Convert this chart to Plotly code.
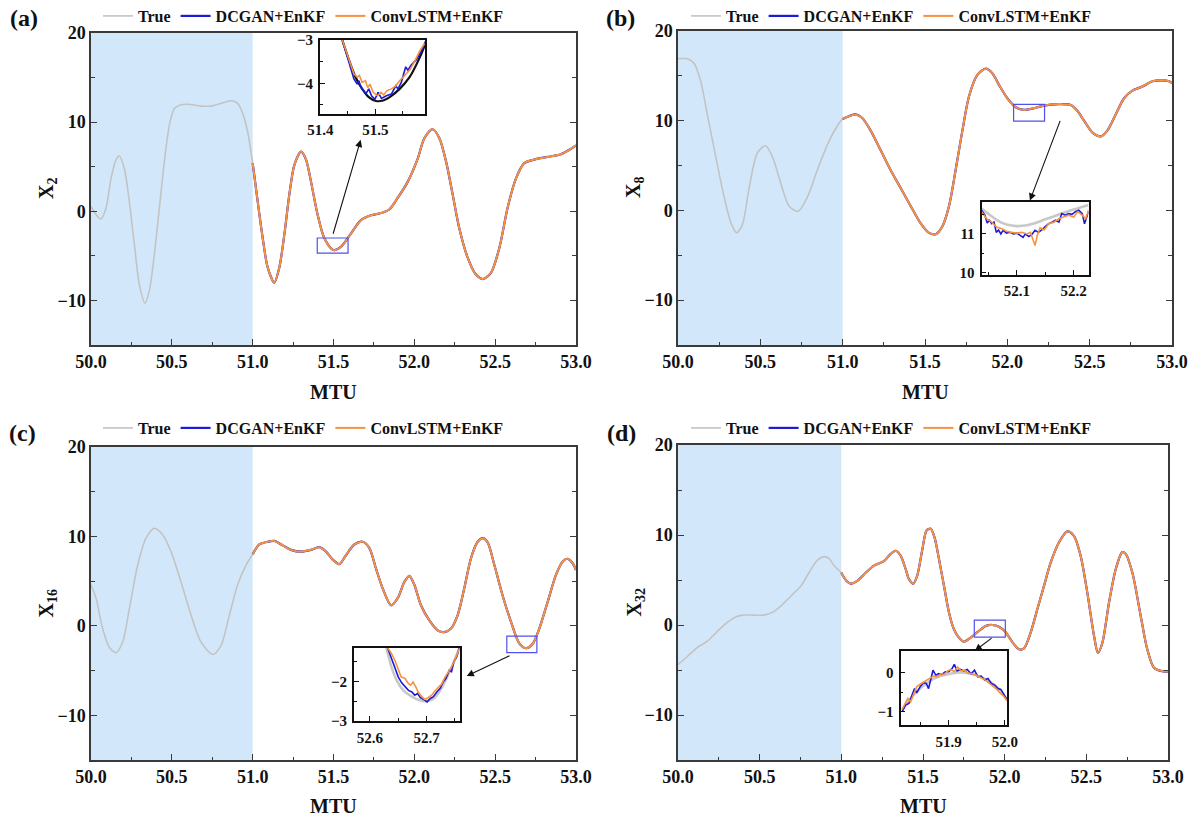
import plotly.graph_objects as go

# ---------------- data ----------------
a_x = [50.000, 50.031, 50.062, 50.093, 50.124, 50.155, 50.175, 50.206, 50.237, 50.268, 50.299, 50.334,
       50.361, 50.392, 50.423, 50.454, 50.485, 50.515, 50.546, 50.598, 50.680, 50.742, 50.804, 50.866,
       50.907, 50.938, 50.969, 51.000, 51.031, 51.062, 51.093, 51.134, 51.165, 51.196, 51.227, 51.258,
       51.299, 51.330, 51.361, 51.402, 51.443, 51.499, 51.546, 51.608, 51.670, 51.732, 51.794, 51.845,
       51.897, 51.959, 52.021, 52.062, 52.113, 52.155, 52.196, 52.237, 52.278, 52.330, 52.381, 52.423,
       52.474, 52.526, 52.577, 52.629, 52.680, 52.742, 52.825, 52.907, 52.959, 53.000]
a_true = [0.56, -0.37, -0.86, 0.37, 3.7, 5.8, 6.2, 4.8, 1.1, -3.7, -8.2, -10.3,
          -8.9, -4.8, 0.4, 5.6, 9.7, 11.5, 11.9, 12.0, 11.8, 11.8, 12.1, 12.4,
          12.1, 11.0, 8.9, 5.4, 1.1, -3.0, -6.3, -8.0, -6.3, -2.6, 1.9, 5.2,
          6.7, 5.8, 3.3, -0.4, -3.0, -4.35, -4.0, -2.5, -1.0, -0.45, -0.2, 0.2,
          1.5, 3.3, 5.9, 8.2, 9.2, 8.2, 5.6, 1.9, -1.9, -5.2, -7.1, -7.6,
          -6.9, -4.1, 0.4, 3.7, 5.4, 5.8, 6.1, 6.4, 6.9, 7.4]

b_x = [50.000, 50.057, 50.097, 50.138, 50.178, 50.229, 50.279, 50.320, 50.356, 50.391, 50.431, 50.482,
       50.532, 50.573, 50.623, 50.674, 50.729, 50.785, 50.846, 50.907, 50.957, 51.000, 51.038, 51.079,
       51.119, 51.170, 51.231, 51.291, 51.352, 51.413, 51.474, 51.524, 51.565, 51.605, 51.646, 51.686,
       51.727, 51.767, 51.818, 51.868, 51.909, 51.949, 52.000, 52.051, 52.101, 52.152, 52.202, 52.263,
       52.324, 52.385, 52.425, 52.466, 52.516, 52.567, 52.607, 52.658, 52.709, 52.759, 52.820, 52.881,
       52.941, 52.982, 53.000]
b_true = [16.9, 16.9, 16.4, 14.4, 10.7, 6.0, 1.6, -1.3, -2.5, -1.6, 2.4, 6.4,
          7.2, 6.0, 3.1, 0.5, -0.1, 1.45, 4.5, 7.3, 9.1, 10.2, 10.5, 10.7,
          10.3, 8.9, 6.7, 4.5, 2.5, 0.5, -1.45, -2.5, -2.65, -1.8, 0.5, 4.5,
          8.9, 12.7, 15.1, 15.8, 15.3, 14.0, 12.5, 11.5, 11.2, 11.35, 11.6, 11.8,
          11.85, 11.75, 11.1, 10.0, 8.7, 8.25, 8.9, 10.7, 12.5, 13.35, 13.8, 14.4,
          14.5, 14.4, 14.2]

c_x = [50.000, 50.031, 50.072, 50.113, 50.155, 50.196, 50.237, 50.289, 50.340, 50.392, 50.443, 50.495,
       50.557, 50.619, 50.680, 50.753, 50.804, 50.856, 50.907, 50.959, 51.000, 51.041, 51.093, 51.134,
       51.186, 51.237, 51.299, 51.361, 51.412, 51.454, 51.495, 51.536, 51.577, 51.629, 51.680, 51.722,
       51.763, 51.804, 51.856, 51.897, 51.938, 51.969, 52.000, 52.041, 52.093, 52.144, 52.186, 52.227,
       52.268, 52.309, 52.351, 52.392, 52.423, 52.454, 52.495, 52.546, 52.598, 52.649, 52.691, 52.732,
       52.773, 52.825, 52.876, 52.918, 52.948, 52.979, 53.000]
c_true = [4.6, 3.1, -0.3, -2.4, -3.0, -1.8, 1.9, 6.8, 9.8, 10.9, 10.2, 8.3,
          4.9, 1.2, -1.8, -3.2, -2.2, 1.2, 4.6, 6.8, 8.0, 9.1, 9.4, 9.5,
          9.0, 8.5, 8.3, 8.5, 8.8, 8.3, 7.4, 6.9, 7.9, 9.1, 9.4, 8.7,
          6.4, 4.2, 2.3, 3.1, 4.9, 5.6, 4.6, 2.3, 0.6, -0.5, -0.7, -0.3,
          1.2, 4.2, 7.6, 9.4, 9.8, 9.3, 6.8, 3.4, 0.45, -1.95, -2.5, -2.0,
          -0.3, 2.7, 5.7, 7.2, 7.5, 7.0, 6.25]

d_x = [50.000, 50.057, 50.118, 50.180, 50.241, 50.302, 50.353, 50.394, 50.465, 50.527, 50.578, 50.629,
       50.690, 50.751, 50.802, 50.853, 50.894, 50.924, 50.955, 51.000, 51.027, 51.057, 51.098, 51.149,
       51.200, 51.261, 51.302, 51.333, 51.363, 51.394, 51.414, 51.441, 51.465, 51.496, 51.522, 51.547,
       51.571, 51.598, 51.629, 51.659, 51.690, 51.720, 51.751, 51.792, 51.833, 51.884, 51.924, 51.965,
       52.006, 52.047, 52.088, 52.118, 52.159, 52.200, 52.241, 52.282, 52.333, 52.384, 52.424, 52.465,
       52.506, 52.547, 52.571, 52.598, 52.639, 52.680, 52.720, 52.741, 52.782, 52.833, 52.873, 52.914,
       52.955, 53.000]
d_true = [-4.4, -3.5, -2.5, -1.8, -0.7, 0.3, 0.9, 1.1, 1.1, 1.1, 1.4, 2.1,
          3.2, 4.3, 5.8, 7.2, 7.6, 7.4, 6.6, 5.8, 5.0, 4.6, 4.9, 5.8,
          6.6, 7.1, 7.9, 8.25, 7.7, 6.2, 5.1, 4.6, 5.5, 8.4, 10.5, 10.7,
          9.7, 7.3, 4.3, 1.4, -0.5, -1.4, -1.86, -1.4, -0.8, -0.1, 0.0, -0.2,
          -0.8, -1.9, -2.7, -2.6, -0.85, 1.75, 4.35, 6.95, 9.2, 10.4, 9.9, 7.7,
          3.6, -1.2, -3.1, -2.0, 2.5, 6.2, 8.1, 7.9, 5.8, 1.0, -2.7, -4.75,
          -5.1, -5.2]

# ---- inset (zoomed) data ----
ia_true_x = [51.440, 51.452, 51.464, 51.476, 51.488, 51.501, 51.514, 51.526, 51.544, 51.562, 51.577, 51.589, 51.592]
ia_true_y = [-3.0, -3.46, -3.86, -4.13, -4.32, -4.41, -4.40, -4.32, -4.13, -3.86, -3.5, -3.14, -3.02]
ia_dc_x = [51.440, 51.452, 51.461, 51.467, 51.470, 51.474, 51.479, 51.483, 51.488, 51.493, 51.499, 51.505,
           51.511, 51.520, 51.529, 51.537, 51.541, 51.547, 51.555, 51.559, 51.565, 51.574, 51.583, 51.592]
ia_dc_y = [-3.0, -3.5, -3.9, -4.02, -3.94, -4.1, -4.17, -4.24, -4.13, -4.29, -4.37, -4.21,
           -4.35, -4.29, -4.25, -4.06, -4.13, -3.98, -3.62, -3.7, -3.58, -3.46, -3.26, -3.02]
ia_cl_x = [51.440, 51.452, 51.461, 51.467, 51.471, 51.476, 51.482, 51.486, 51.490, 51.496, 51.504, 51.510,
           51.515, 51.521, 51.529, 51.537, 51.544, 51.553, 51.562, 51.571, 51.580, 51.589]
ia_cl_y = [-3.0, -3.46, -3.78, -3.86, -3.82, -3.98, -3.94, -4.1, -4.02, -4.21, -4.29, -4.21,
           -4.27, -4.17, -4.13, -4.06, -3.94, -3.82, -3.7, -3.5, -3.26, -3.08]

ib_true_x = [52.038, 52.053, 52.068, 52.082, 52.100, 52.118, 52.135, 52.153, 52.171, 52.188, 52.206, 52.226]
ib_true_y = [11.65, 11.48, 11.33, 11.24, 11.2, 11.22, 11.29, 11.39, 11.48, 11.57, 11.65, 11.74]
ib_dc_x = [52.038, 52.044, 52.048, 52.052, 52.056, 52.060, 52.064, 52.068, 52.072, 52.076, 52.082, 52.088,
           52.094, 52.100, 52.106, 52.111, 52.115, 52.121, 52.126, 52.132, 52.138, 52.144, 52.150, 52.156,
           52.162, 52.168, 52.174, 52.179, 52.185, 52.191, 52.197, 52.203, 52.209, 52.215, 52.219, 52.224,
           52.226]
ib_dc_y = [11.61, 11.48, 11.28, 11.35, 11.26, 11.30, 11.04, 11.10, 11.00, 11.09, 11.02, 11.04,
           11.0, 11.02, 10.96, 10.91, 11.0, 10.93, 10.98, 11.09, 11.04, 11.10, 11.19, 11.26,
           11.30, 11.35, 11.30, 11.52, 11.48, 11.52, 11.50, 11.57, 11.61, 11.52, 11.26, 11.48,
           11.57]
ib_cl_x = [52.038, 52.047, 52.056, 52.065, 52.074, 52.082, 52.091, 52.100, 52.109, 52.118, 52.124, 52.128,
           52.132, 52.136, 52.141, 52.148, 52.156, 52.165, 52.174, 52.182, 52.191, 52.200, 52.207, 52.215,
           52.221, 52.226]
ib_cl_y = [11.57, 11.39, 11.30, 11.17, 11.13, 11.07, 11.04, 11.02, 11.04, 11.0, 11.04, 10.87,
           10.70, 10.96, 11.16, 11.10, 11.26, 11.30, 11.39, 11.43, 11.48, 11.43, 11.57, 11.48,
           11.39, 11.61]

ic_true_x = [52.629, 52.638, 52.647, 52.659, 52.674, 52.688, 52.700, 52.712, 52.724, 52.735, 52.747, 52.758]
ic_true_y = [-1.15, -1.64, -1.97, -2.23, -2.39, -2.48, -2.5, -2.44, -2.23, -1.93, -1.55, -1.15]
ic_dc_x = [52.631, 52.636, 52.644, 52.650, 52.656, 52.662, 52.668, 52.674, 52.679, 52.684, 52.689, 52.695,
           52.701, 52.706, 52.712, 52.718, 52.724, 52.729, 52.734, 52.740, 52.744, 52.748, 52.753, 52.758]
ic_dc_y = [-1.15, -1.34, -1.64, -1.89, -2.04, -2.14, -2.23, -2.27, -2.35, -2.31, -2.41, -2.46,
           -2.52, -2.44, -2.39, -2.27, -2.18, -2.02, -1.93, -1.72, -1.76, -1.51, -1.39, -1.15]
ic_cl_x = [52.631, 52.638, 52.644, 52.650, 52.655, 52.662, 52.668, 52.672, 52.676, 52.681, 52.685, 52.691,
           52.697, 52.703, 52.709, 52.715, 52.721, 52.726, 52.732, 52.738, 52.744, 52.750, 52.758]
ic_cl_y = [-1.15, -1.30, -1.47, -1.72, -1.89, -1.93, -2.06, -2.10, -2.02, -2.14, -2.27, -2.38,
           -2.46, -2.41, -2.35, -2.24, -2.14, -2.08, -1.91, -1.76, -1.64, -1.45, -1.18]

id_true_x = [51.817, 51.832, 51.849, 51.867, 51.885, 51.903, 51.921, 51.939, 51.957, 51.974, 51.989, 52.004]
id_true_y = [-0.96, -0.66, -0.41, -0.21, -0.09, -0.03, 0.0, -0.03, -0.11, -0.24, -0.41, -0.70]
id_dc_x = [51.817, 51.823, 51.829, 51.835, 51.839, 51.843, 51.849, 51.855, 51.860, 51.864, 51.868, 51.872,
           51.877, 51.882, 51.888, 51.894, 51.900, 51.906, 51.910, 51.915, 51.921, 51.927, 51.933, 51.940,
           51.946, 51.952, 51.958, 51.964, 51.970, 51.976, 51.982, 51.988, 51.993, 51.999, 52.004]
id_dc_y = [-1.0, -0.83, -0.79, -0.53, -0.41, -0.52, -0.36, -0.26, -0.28, -0.41, -0.18, 0.06,
           -0.07, -0.03, -0.05, 0.02, 0.02, 0.10, 0.21, 0.04, 0.08, 0.04, 0.08, -0.03,
           0.06, -0.11, -0.09, -0.19, -0.15, -0.28, -0.32, -0.41, -0.43, -0.58, -0.69]
id_cl_x = [51.817, 51.823, 51.827, 51.832, 51.838, 51.843, 51.849, 51.855, 51.861, 51.868, 51.874, 51.880,
           51.886, 51.892, 51.898, 51.904, 51.910, 51.916, 51.922, 51.928, 51.934, 51.942, 51.949, 51.957,
           51.964, 51.971, 51.979, 51.986, 51.992, 51.998, 52.004]
id_cl_y = [-0.94, -0.75, -0.66, -0.75, -0.53, -0.36, -0.30, -0.24, -0.19, -0.13, -0.09, -0.11,
           -0.03, -0.05, 0.04, 0.08, 0.02, 0.14, 0.04, 0.06, -0.01, -0.03, -0.07, -0.13,
           -0.18, -0.26, -0.35, -0.43, -0.53, -0.60, -0.72]

panel_labels = ["(a)", "(b)", "(c)", "(d)"]
x_title = "MTU"
y_titles = ["X<sub>2</sub>", "X<sub>8</sub>", "X<sub>16</sub>", "X<sub>32</sub>"]
legend_names = ["True", "DCGAN+EnKF", "ConvLSTM+EnKF"]
assim_start = 51.0

# inset view windows: (x range, y range, x major ticks, x minor, y major, y minor)
insets = [
    ([51.3995, 51.59], [-4.7, -2.999], [51.4, 51.5], [51.45, 51.55], [-4, -3], [-4.5, -3.5]),
    ([52.038, 52.226], [9.96, 11.83], [52.1, 52.2], [52.05, 52.15], [10, 11], [10.5, 11.5]),
    ([52.572, 52.758], [-3.001, -1.15], [52.6, 52.7], [52.65, 52.75], [-3, -2], [-2.5, -1.5]),
    ([51.814, 52.004], [-1.34, 0.55], [51.9, 52.0], [51.85, 51.95], [-1, 0], [-0.5]),
]
# arrows: (tail x, tail y, head x, head y) in data units of each main panel
arrows = [
    (51.495, -2.69, 51.668, 8.02),
    (52.324, 10.15, 52.137, 1.1),
    (52.598, -3.27, 52.324, -5.61),
    (51.929, -1.33, 51.817, -2.88),
]

# ---------------- styling / layout ----------------
W, H = 1203, 826
FONT = "Liberation Serif"
C_TRUE = "#c3c3c3"
C_DC = "#1c1cd8"
C_CL = "#f7923f"
C_SHADE = "#d2e8fa"
AX = "#3a3a3a"

main_px = [(91, 576, 33, 345), (678, 1172, 31, 345), (91, 576, 447, 760), (678, 1168, 445, 760)]
inset_px = [(320, 425, 40, 113.5), (981.5, 1088.5, 201.5, 274.5), (354, 459.5, 647.5, 721), (900.5, 1007, 651, 725)]
legend_pos = [(98, 16), (686, 16), (98, 428), (686, 428)]
label_pos = [(24, 18), (620, 18), (22, 433), (621, 433)]
xtitle_y = [392, 392, 806, 806]
ytitle_x = [47, 635, 47, 635]

def dom_x(a, b):
    return [a / W, b / W]

def dom_y(t, b):
    return [1 - b / H, 1 - t / H]

def bold(size, color="#111"):
    return dict(family=FONT, size=size, color=color, weight="bold")

main_data = [(a_x, a_true), (b_x, b_true), (c_x, c_true), (d_x, d_true)]
inset_data = [
    (ia_true_x, ia_true_y, ia_dc_x, ia_dc_y, ia_cl_x, ia_cl_y),
    (ib_true_x, ib_true_y, ib_dc_x, ib_dc_y, ib_cl_x, ib_cl_y),
    (ic_true_x, ic_true_y, ic_dc_x, ic_dc_y, ic_cl_x, ic_cl_y),
    (id_true_x, id_true_y, id_dc_x, id_dc_y, id_cl_x, id_cl_y),
]

fig = go.Figure()
layout = dict(width=W, height=H, margin=dict(l=0, r=0, t=0, b=0, autoexpand=False),
              paper_bgcolor="white", plot_bgcolor="rgba(0,0,0,0)",
              shapes=[], annotations=[])

for i in range(4):
    n = i + 1
    xa = "x" if n == 1 else f"x{n}"
    ya = "y" if n == 1 else f"y{n}"
    leg = "legend" if n == 1 else f"legend{n}"
    xs, ys = main_data[i]
    ax_x = [x for x in xs if x >= assim_start]
    ax_y = [y for x, y in zip(xs, ys) if x >= assim_start]
    line_kw = dict(shape="spline", smoothing=0.8)
    fig.add_trace(go.Scatter(x=xs, y=ys, mode="lines", name=legend_names[0], xaxis=xa, yaxis=ya,
                             legend=leg, line=dict(color=C_TRUE, width=1.6, **line_kw)))
    fig.add_trace(go.Scatter(x=ax_x, y=ax_y, mode="lines", name=legend_names[1], xaxis=xa, yaxis=ya,
                             legend=leg, line=dict(color=C_DC, width=2.2, **line_kw)))
    fig.add_trace(go.Scatter(x=ax_x, y=ax_y, mode="lines", name=legend_names[2], xaxis=xa, yaxis=ya,
                             legend=leg, line=dict(color=C_CL, width=2.0, **line_kw)))

    l, r, t, b = main_px[i]
    xkey = "xaxis" if n == 1 else f"xaxis{n}"
    ykey = "yaxis" if n == 1 else f"yaxis{n}"
    layout[xkey] = dict(domain=dom_x(l, r), anchor=ya, range=[50, 53], tick0=50, dtick=0.5, tickformat=".1f",
                        showline=True, linecolor=AX, linewidth=1.5, mirror=True, automargin=False,
                        ticks="inside", ticklen=6, tickwidth=1.3, tickcolor=AX,
                        minor=dict(dtick=0.25, ticks="inside", ticklen=3, tickcolor=AX),
                        showgrid=False, zeroline=False, tickfont=bold(18))
    layout[ykey] = dict(domain=dom_y(t, b), anchor=xa, range=[-15, 20], tick0=0, dtick=10,
                        showline=True, linecolor=AX, linewidth=1.5, mirror="ticks", automargin=False,
                        ticks="inside", ticklen=6, tickwidth=1.3, tickcolor=AX,
                        minor=dict(dtick=5, ticks="inside", ticklen=4, tickcolor=AX),
                        showgrid=False, zeroline=False, tickfont=bold(18))

    # axis titles
    layout["annotations"].append(dict(x=(l + r) / 2 / W, y=1 - xtitle_y[i] / H, xref="paper", yref="paper",
                                      text=x_title, showarrow=False, font=bold(20),
                                      xanchor="center", yanchor="middle"))
    layout["annotations"].append(dict(x=ytitle_x[i] / W, y=1 - (t + b) / 2 / H, xref="paper", yref="paper",
                                      text=y_titles[i], showarrow=False, font=bold(20), textangle=-90,
                                      xanchor="center", yanchor="middle"))

    # observation window shading
    layout["shapes"].append(dict(type="rect", xref=xa, yref=f"{ya} domain", x0=50, x1=assim_start, y0=0, y1=1,
                                 fillcolor=C_SHADE, line=dict(width=0), layer="below"))
    # zoom-window rectangle
    xr, yr, xmaj, xmin_, ymaj, ymin_ = insets[i]
    layout["shapes"].append(dict(type="rect", xref=xa, yref=ya, x0=xr[0], x1=xr[1], y0=yr[0], y1=yr[1],
                                 line=dict(color="#5050f0", width=1.2), layer="above"))
    tx, ty, hx, hy = arrows[i]
    layout["annotations"].append(dict(x=hx, y=hy, ax=tx, ay=ty, xref=xa, yref=ya, axref=xa, ayref=ya,
                                      text="", showarrow=True, arrowhead=2, arrowsize=1.3, arrowwidth=1.1,
                                      arrowcolor="#111"))
    # panel label
    px, py = label_pos[i]
    layout["annotations"].append(dict(x=px / W, y=1 - py / H, xref="paper", yref="paper", text=panel_labels[i],
                                      showarrow=False, font=bold(24), xanchor="center", yanchor="middle"))
    # legend
    lx, ly = legend_pos[i]
    layout[leg] = dict(x=lx / W, y=1 - ly / H, xref="container", yref="container",
                       xanchor="left", yanchor="middle", orientation="h",
                       font=bold(16), bgcolor="rgba(0,0,0,0)", borderwidth=0, itemwidth=30)

    # ---- inset ----
    m = n + 4
    ixa, iya = f"x{m}", f"y{m}"
    txs, tys, dxs, dys, cxs, cys = inset_data[i]
    true_col = "#111111" if i == 0 else "#c8c8c8"
    true_w = 2.2 if i == 0 else 2.6
    fig.add_trace(go.Scatter(x=txs, y=tys, mode="lines", xaxis=ixa, yaxis=iya, showlegend=False,
                             line=dict(color=true_col, width=true_w, shape="spline", smoothing=0.8)))
    fig.add_trace(go.Scatter(x=dxs, y=dys, mode="lines", xaxis=ixa, yaxis=iya, showlegend=False,
                             line=dict(color=C_DC, width=1.6)))
    fig.add_trace(go.Scatter(x=cxs, y=cys, mode="lines", xaxis=ixa, yaxis=iya, showlegend=False,
                             line=dict(color=C_CL, width=1.6)))
    l, r, t, b = inset_px[i]
    layout[f"xaxis{m}"] = dict(domain=dom_x(l, r), anchor=iya, range=xr, tickmode="array", tickvals=xmaj,
                               ticktext=[f"{v:.1f}" for v in xmaj], automargin=False,
                               showline=True, linecolor="#111", linewidth=1.8, mirror=True,
                               ticks="inside", ticklen=5, tickwidth=1.3, tickcolor="#111",
                               minor=dict(tickmode="array", tickvals=xmin_, ticks="inside", ticklen=3, tickcolor="#111"),
                               showgrid=False, zeroline=False, tickfont=bold(15), ticklabelstandoff=2)
    layout[f"yaxis{m}"] = dict(domain=dom_y(t, b), anchor=ixa, range=yr, tickmode="array", tickvals=ymaj,
                               showline=True, linecolor="#111", linewidth=1.8, mirror=True, automargin=False,
                               ticks="inside", ticklen=5, tickwidth=1.3, tickcolor="#111",
                               minor=dict(tickmode="array", tickvals=ymin_, ticks="inside", ticklen=3, tickcolor="#111"),
                               showgrid=False, zeroline=False, tickfont=bold(15), ticklabelstandoff=2)

fig.update_layout(**layout)
fig.write_html("out.html")
